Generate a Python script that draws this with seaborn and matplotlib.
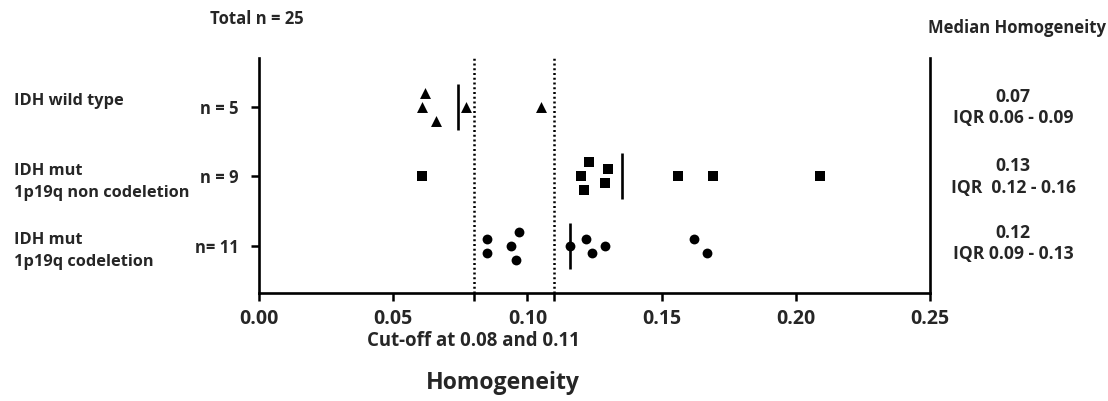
import matplotlib
matplotlib.use("Agg")
import matplotlib.pyplot as plt
import seaborn as sns
import pandas as pd
import numpy as np

# ---- data ----
groups = ["IDH wild type", "IDH mut\n1p19q non codeletion", "IDH mut\n1p19q codeletion"]
n_labels = ["n = 5", "n = 9", "n= 11"]
wt_values = [0.0618, 0.0608, 0.0659, 0.0770, 0.1050]
noncodel_values = [0.0608, 0.120, 0.121, 0.123, 0.129, 0.130, 0.156, 0.169, 0.209]
codel_values = [0.0848, 0.0848, 0.0970, 0.0940, 0.0959, 0.1159, 0.1220, 0.1240, 0.1290, 0.1621, 0.1670]
median_lines = [0.0741, 0.1352, 0.116]
median_text = ["0.07\nIQR 0.06 - 0.09", "0.13\nIQR  0.12 - 0.16", "0.12\nIQR 0.09 - 0.13"]
cutoffs = [0.08, 0.11]
x_ticks = [0.00, 0.05, 0.10, 0.15, 0.20, 0.25]

# layout of the dot columns (vertical spread of overlapping points)
wt_spread = [-0.2, 0, 0.2, 0, 0]
noncodel_spread = [0, 0, 0.2, -0.2, 0.1, -0.1, 0, 0, 0]
codel_spread = [-0.1, 0.1, -0.2, 0, 0.2, 0, -0.1, 0.1, 0, -0.1, 0.1]

rows = []
for gi, (vals, spr) in enumerate([(wt_values, wt_spread),
                                  (noncodel_values, noncodel_spread),
                                  (codel_values, codel_spread)]):
    for v, s in zip(vals, spr):
        rows.append({"group": groups[gi], "value": v, "ypos": gi + s})
df = pd.DataFrame(rows)

sns.set_theme(style="white")
plt.rcParams['font.family'] = ['Open Sans', 'DejaVu Sans']
plt.rcParams['font.weight'] = 'bold'

fig = plt.figure(figsize=(11.08, 4.01), dpi=100)
ax = fig.add_axes([259/1108, 1-292.7/401, (930-259)/1108, (292.7-58)/401])

markers = {groups[0]: "^", groups[1]: "s", groups[2]: "o"}
sizes = {groups[0]: 62, groups[1]: 50, groups[2]: 50}
for g in groups:
    sub = df[df.group == g]
    sns.scatterplot(data=sub, x="value", y="ypos", marker=markers[g], s=sizes[g],
                    color="black", edgecolor="black", linewidth=0, ax=ax, legend=False, zorder=3)

for i, m in enumerate(median_lines):
    ax.plot([m, m], [i - 0.33, i + 0.33], color="black", lw=1.9, solid_capstyle="butt", zorder=2)

for c in cutoffs:
    ax.axvline(c, color="black", lw=1.8, linestyle=(0, (0.8, 1.1)), zorder=1)

ax.set_xlim(0, 0.25)
ax.set_ylim(2.67, -0.70)
ax.set_xticks(x_ticks)
ax.set_xticklabels([f"{t:.2f}" for t in x_ticks], fontsize=14, fontweight="bold")
ax.set_xticks(cutoffs, minor=True)
ax.set_yticks([0, 1, 2])
ax.set_yticklabels(n_labels, fontsize=12, fontweight="bold")
ax.tick_params(axis="both", which="both", direction="out", length=6, width=1.8,
               color="black", bottom=True, left=True)
ax.tick_params(axis="x", pad=6)
ax.tick_params(axis="y", pad=8.5)
ax.set_xlabel("")
ax.set_ylabel("")
for side in ["left", "bottom", "right"]:
    ax.spines[side].set_visible(True)
    ax.spines[side].set_linewidth(1.9)
    ax.spines[side].set_color("black")
ax.spines["top"].set_visible(False)

def fy(y):
    return 1 - y / 401

fig.text(257/1108, fy(19), "Total n = 25", ha="center", va="center", fontsize=12, fontweight="bold")
fig.text(1017/1108, fy(28), "Median Homogeneity", ha="center", va="center", fontsize=12, fontweight="bold")

line_gap = 22
label_top = [101, 171, 240]
for g, y in zip(groups, label_top):
    for k, line in enumerate(g.split("\n")):
        fig.text(14/1108, fy(y + k * line_gap), line, ha="left", va="center",
                 fontsize=11.8, fontweight="bold")
for t, y in zip(median_text, [96.7, 166, 233]):
    for k, line in enumerate(t.split("\n")):
        fig.text(1013/1108, fy(y + k * 21.5), line, ha="center", va="center",
                 fontsize=12.6, fontweight="bold")
fig.text(473/1108, fy(341), "Cut-off at 0.08 and 0.11", ha="center", va="center", fontsize=13.4, fontweight="bold")
fig.text(503/1108, fy(383), "Homogeneity", ha="center", va="center", fontsize=16.6, fontweight="bold")

fig.savefig("out.png", dpi=100)
